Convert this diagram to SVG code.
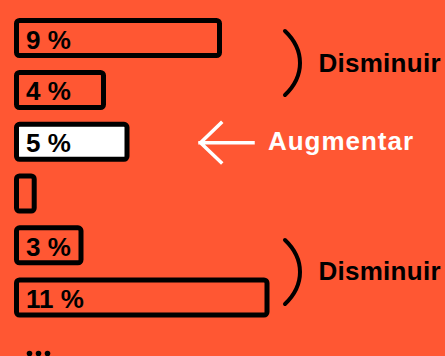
<svg xmlns="http://www.w3.org/2000/svg" width="445" height="356" viewBox="0 0 445 356">
  <style>
    .bar { fill: none; stroke: #000000; stroke-width: 5; }
    .pct { font-family: "Liberation Sans", Arial, sans-serif; font-weight: bold; font-size: 26px; fill: #000000; }
    .lbl { font-family: "Liberation Sans", Arial, sans-serif; font-weight: bold; font-size: 26px; }
    .brk { fill: none; stroke: #000000; stroke-width: 4; stroke-linecap: round; }
    .arr { fill: none; stroke: #ffffff; stroke-width: 3.5; stroke-linecap: square; }
  </style>
  <rect x="0" y="0" width="445" height="356" fill="#FF5733"/>

  <g id="bar-9">
    <rect class="bar" x="16.5" y="20.5" width="203" height="35" rx="3"/>
    <text class="pct" x="26" y="48.5">9 %</text>
  </g>
  <g id="bar-4">
    <rect class="bar" x="16.5" y="72.5" width="87" height="35" rx="3"/>
    <text class="pct" x="26" y="100.3">4 %</text>
  </g>
  <g id="bar-5">
    <rect x="16.5" y="124.3" width="110.5" height="35" rx="3" fill="#ffffff" stroke="#000000" stroke-width="5"/>
    <text class="pct" x="26" y="152">5 %</text>
  </g>
  <g id="bar-0">
    <rect class="bar" x="16.5" y="176" width="17.7" height="35" rx="3"/>
  </g>
  <g id="bar-3">
    <rect class="bar" x="16.5" y="227.8" width="64.5" height="35" rx="3"/>
    <text class="pct" x="26" y="255.5">3 %</text>
  </g>
  <g id="bar-11">
    <rect class="bar" x="16.5" y="280" width="250.5" height="35" rx="3"/>
    <text class="pct" x="26" y="307.5">11 %</text>
  </g>
  <g id="ellipsis" fill="#000000">
    <circle cx="29.5" cy="353.5" r="2.8"/>
    <circle cx="38.5" cy="353.5" r="2.8"/>
    <circle cx="47.5" cy="353.5" r="2.8"/>
  </g>

  <g id="connectors">
    <path class="brk" d="M285,31 C305,50 305,76 285,95"/>
    <path class="brk" d="M285,240 C305,259 305,285 285,304"/>
    <path class="arr" d="M253,142.7 H200 M221,123 L200.5,142.7 L221,162.4"/>
  </g>

  <g id="label-disminuir-1">
    <text class="lbl" x="318.5" y="72" fill="#000000" textLength="122" lengthAdjust="spacing">Disminuir</text>
  </g>
  <g id="label-augmentar">
    <text class="lbl" x="268" y="150" fill="#ffffff" textLength="145" lengthAdjust="spacing">Augmentar</text>
  </g>
  <g id="label-disminuir-2">
    <text class="lbl" x="318.5" y="280" fill="#000000" textLength="122" lengthAdjust="spacing">Disminuir</text>
  </g>
</svg>
